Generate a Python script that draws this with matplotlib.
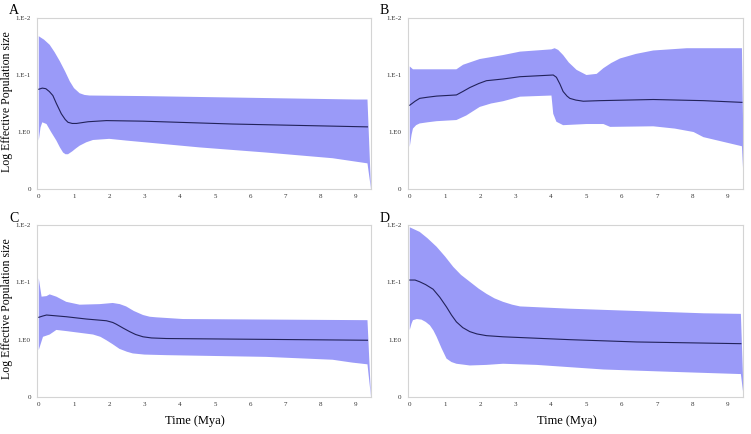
import matplotlib
matplotlib.use("Agg")
import matplotlib.pyplot as plt

plt.rcParams["font.family"] = ["Liberation Serif", "DejaVu Serif"]

# y is plotted on an evenly spaced scale: 0 -> "0", 1 -> "1.E0", 2 -> "1.E-1", 3 -> "1.E-2"
y_ticks = [0, 1, 2, 3]
y_ticklabels = ["0", "1.E0", "1.E-1", "1.E-2"]
x_ticks = list(range(10))

# ---- panel A ----
a_up_x = [0.0, 0.15, 0.31, 0.45, 0.6, 0.75, 0.88, 1.0, 1.16, 1.3, 1.44, 3.0, 6.0, 9.0, 9.33, 9.43]
a_up_y = [2.68, 2.62, 2.53, 2.4, 2.24, 2.06, 1.89, 1.77, 1.68, 1.65, 1.64, 1.63, 1.6, 1.57, 1.57, 0.0]
a_lo_x = [0.0, 0.05, 0.1, 0.22, 0.35, 0.5, 0.6, 0.69, 0.76, 0.83, 0.95, 1.05, 1.16, 1.35,
          1.54, 2.0, 2.48, 4.56, 6.45, 8.34, 9.33, 9.43]
a_lo_y = [0.85, 1.08, 1.17, 1.14, 1.0, 0.85, 0.73, 0.64, 0.61, 0.61, 0.66, 0.71, 0.76, 0.82,
          0.86, 0.88, 0.85, 0.73, 0.64, 0.54, 0.45, 0.0]
a_md_x = [0.0, 0.1, 0.2, 0.3, 0.4, 0.5, 0.64, 0.75, 0.83, 0.95, 1.07, 1.4, 1.92, 2.96, 5.5, 9.33]
a_md_y = [1.75, 1.77, 1.76, 1.71, 1.64, 1.5, 1.32, 1.22, 1.17, 1.15, 1.15, 1.18, 1.2, 1.19, 1.14, 1.09]

# ---- panel B ----
b_up_x = [0.0, 0.09, 1.32, 1.51, 1.98, 2.64, 3.12, 4.01, 4.1, 4.2, 4.34, 4.5, 4.72, 5.0, 5.29,
          5.48, 5.7, 5.95, 6.4, 6.89, 7.84, 9.4, 9.46]
b_up_y = [2.15, 2.1, 2.1, 2.18, 2.28, 2.35, 2.41, 2.45, 2.47, 2.44, 2.35, 2.22, 2.09, 2.0, 2.02,
          2.12, 2.21, 2.29, 2.37, 2.43, 2.47, 2.47, 0.0]
b_lo_x = [0.0, 0.05, 0.09, 0.18, 0.28, 0.5, 0.76, 1.32, 1.6, 1.98, 2.3, 2.64, 3.12, 4.01,
          4.06, 4.15, 4.34, 5.0, 5.48, 5.67, 6.89, 7.5, 8.03, 8.31, 9.4, 9.46]
b_lo_y = [0.74, 0.95, 1.06, 1.12, 1.15, 1.17, 1.19, 1.21, 1.29, 1.44, 1.5, 1.54, 1.62, 1.64,
          1.32, 1.18, 1.12, 1.14, 1.14, 1.09, 1.1, 1.06, 1.0, 0.91, 0.75, 0.0]
b_md_x = [0.0, 0.15, 0.28, 0.5, 0.76, 1.32, 1.5, 1.7, 1.95, 2.17, 2.64, 3.12, 4.06, 4.15, 4.25,
          4.34, 4.45, 4.53, 4.7, 4.91, 5.38, 6.89, 8.31, 9.4]
b_md_y = [1.47, 1.54, 1.59, 1.61, 1.63, 1.65, 1.71, 1.78, 1.85, 1.9, 1.93, 1.97, 2.0, 1.96, 1.84,
          1.71, 1.63, 1.59, 1.56, 1.54, 1.55, 1.57, 1.55, 1.52]

# ---- panel C ----
c_up_x = [0.0, 0.08, 0.22, 0.31, 0.5, 0.78, 1.16, 1.73, 2.1, 2.3, 2.48, 2.7, 2.96, 3.15, 3.33,
          4.09, 9.33, 9.43]
c_up_y = [2.07, 1.75, 1.76, 1.79, 1.75, 1.66, 1.61, 1.62, 1.64, 1.62, 1.58, 1.5, 1.43, 1.4, 1.39,
          1.36, 1.34, 0.0]
c_lo_x = [0.0, 0.12, 0.31, 0.5, 0.78, 1.54, 1.75, 1.92, 2.1, 2.29, 2.5, 2.67, 3.0, 3.62, 6.45,
          8.34, 8.9, 9.33, 9.43]
c_lo_y = [0.82, 1.05, 1.09, 1.17, 1.15, 1.09, 1.05, 0.99, 0.92, 0.84, 0.79, 0.76, 0.74, 0.73,
          0.7, 0.65, 0.6, 0.57, 0.0]
c_md_x = [0.0, 0.1, 0.22, 0.78, 1.35, 1.92, 2.1, 2.2, 2.4, 2.58, 2.75, 2.96, 3.2, 3.62, 5.5, 9.33]
c_md_y = [1.39, 1.41, 1.43, 1.4, 1.36, 1.33, 1.3, 1.27, 1.2, 1.14, 1.09, 1.05, 1.03, 1.02, 1.01, 0.99]

# ---- panel D ----
d_up_x = [0.0, 0.28, 0.5, 0.76, 1.0, 1.23, 1.45, 1.7, 1.95, 2.17, 2.4, 2.64, 2.9, 3.12, 4.53,
          6.42, 8.31, 9.37, 9.45]
d_up_y = [2.96, 2.88, 2.77, 2.62, 2.45, 2.27, 2.13, 2.01, 1.89, 1.8, 1.72, 1.66, 1.61, 1.58, 1.54,
          1.5, 1.46, 1.45, 0.0]
d_lo_x = [0.0, 0.05, 0.09, 0.2, 0.33, 0.45, 0.57, 0.67, 0.76, 0.9, 1.04, 1.18, 1.32, 1.7, 2.17,
          2.64, 3.59, 5.48, 7.36, 9.37, 9.45]
d_lo_y = [1.17, 1.28, 1.34, 1.36, 1.35, 1.31, 1.25, 1.16, 1.05, 0.85, 0.67, 0.61, 0.58, 0.55,
          0.56, 0.58, 0.56, 0.48, 0.44, 0.4, 0.0]
d_md_x = [0.0, 0.15, 0.28, 0.45, 0.66, 0.85, 1.04, 1.18, 1.32, 1.5, 1.7, 1.9, 2.17, 2.64, 4.53,
          6.42, 9.37]
d_md_y = [2.04, 2.04, 2.01, 1.96, 1.88, 1.74, 1.57, 1.43, 1.31, 1.21, 1.14, 1.1, 1.07, 1.05, 1.0,
          0.96, 0.93]

panels = [
    ("A", a_up_x, a_up_y, a_lo_x, a_lo_y, a_md_x, a_md_y),
    ("B", b_up_x, b_up_y, b_lo_x, b_lo_y, b_md_x, b_md_y),
    ("C", c_up_x, c_up_y, c_lo_x, c_lo_y, c_md_x, c_md_y),
    ("D", d_up_x, d_up_y, d_lo_x, d_lo_y, d_md_x, d_md_y),
]

W, H = 751, 434
# axes boxes in pixels: left, top, right, bottom
boxes = {"A": (37, 18, 371, 189), "B": (408, 18, 743, 189),
         "C": (37, 225, 371, 397), "D": (408, 225, 743, 397)}

FILL = "#9a9af8"
LINE = "#22225a"
FRAME = "#d4d4d4"

fig = plt.figure(figsize=(W / 100, H / 100), dpi=100)

for name, ux, uy, lx, ly, mx, my in panels:
    l, t, r, b = boxes[name]
    ax = fig.add_axes([l / W, 1 - b / H, (r - l) / W, (b - t) / H])
    poly_x = list(ux) + list(lx[::-1])
    poly_y = list(uy) + list(ly[::-1])
    ax.fill(poly_x, poly_y, color=FILL, lw=0)
    ax.plot(mx, my, color=LINE, lw=0.8)
    ax.set_xlim(-0.05, 9.43)
    ax.set_ylim(0, 3)
    ax.set_xticks(x_ticks)
    ax.set_xticklabels([str(v) for v in x_ticks], fontsize=5, color="#333333")
    ax.set_yticks(y_ticks)
    ax.set_yticklabels(y_ticklabels, fontsize=5, color="#333333")
    ax.tick_params(axis="y", length=0, pad=4.5)
    ax.tick_params(axis="x", length=0, pad=3.5)
    for sp in ax.spines.values():
        sp.set_color(FRAME)
        sp.set_linewidth(0.8)
    fig.text((l - 28) / W, 1 - (t - 7) / H, name, fontsize=10, ha="left", va="center")
    if name in ("A", "C"):
        fig.text(7 / W, 1 - ((t + b) / 2 - 2) / H, "Log Effective Population size",
                 fontsize=8.5, rotation=90, ha="center", va="center")
    if name in ("C", "D"):
        fig.text(((l + r) / 2 - 9) / W, 1 - 421 / H, "Time (Mya)",
                 fontsize=9, ha="center", va="center")

fig.savefig("out.png", dpi=100)
